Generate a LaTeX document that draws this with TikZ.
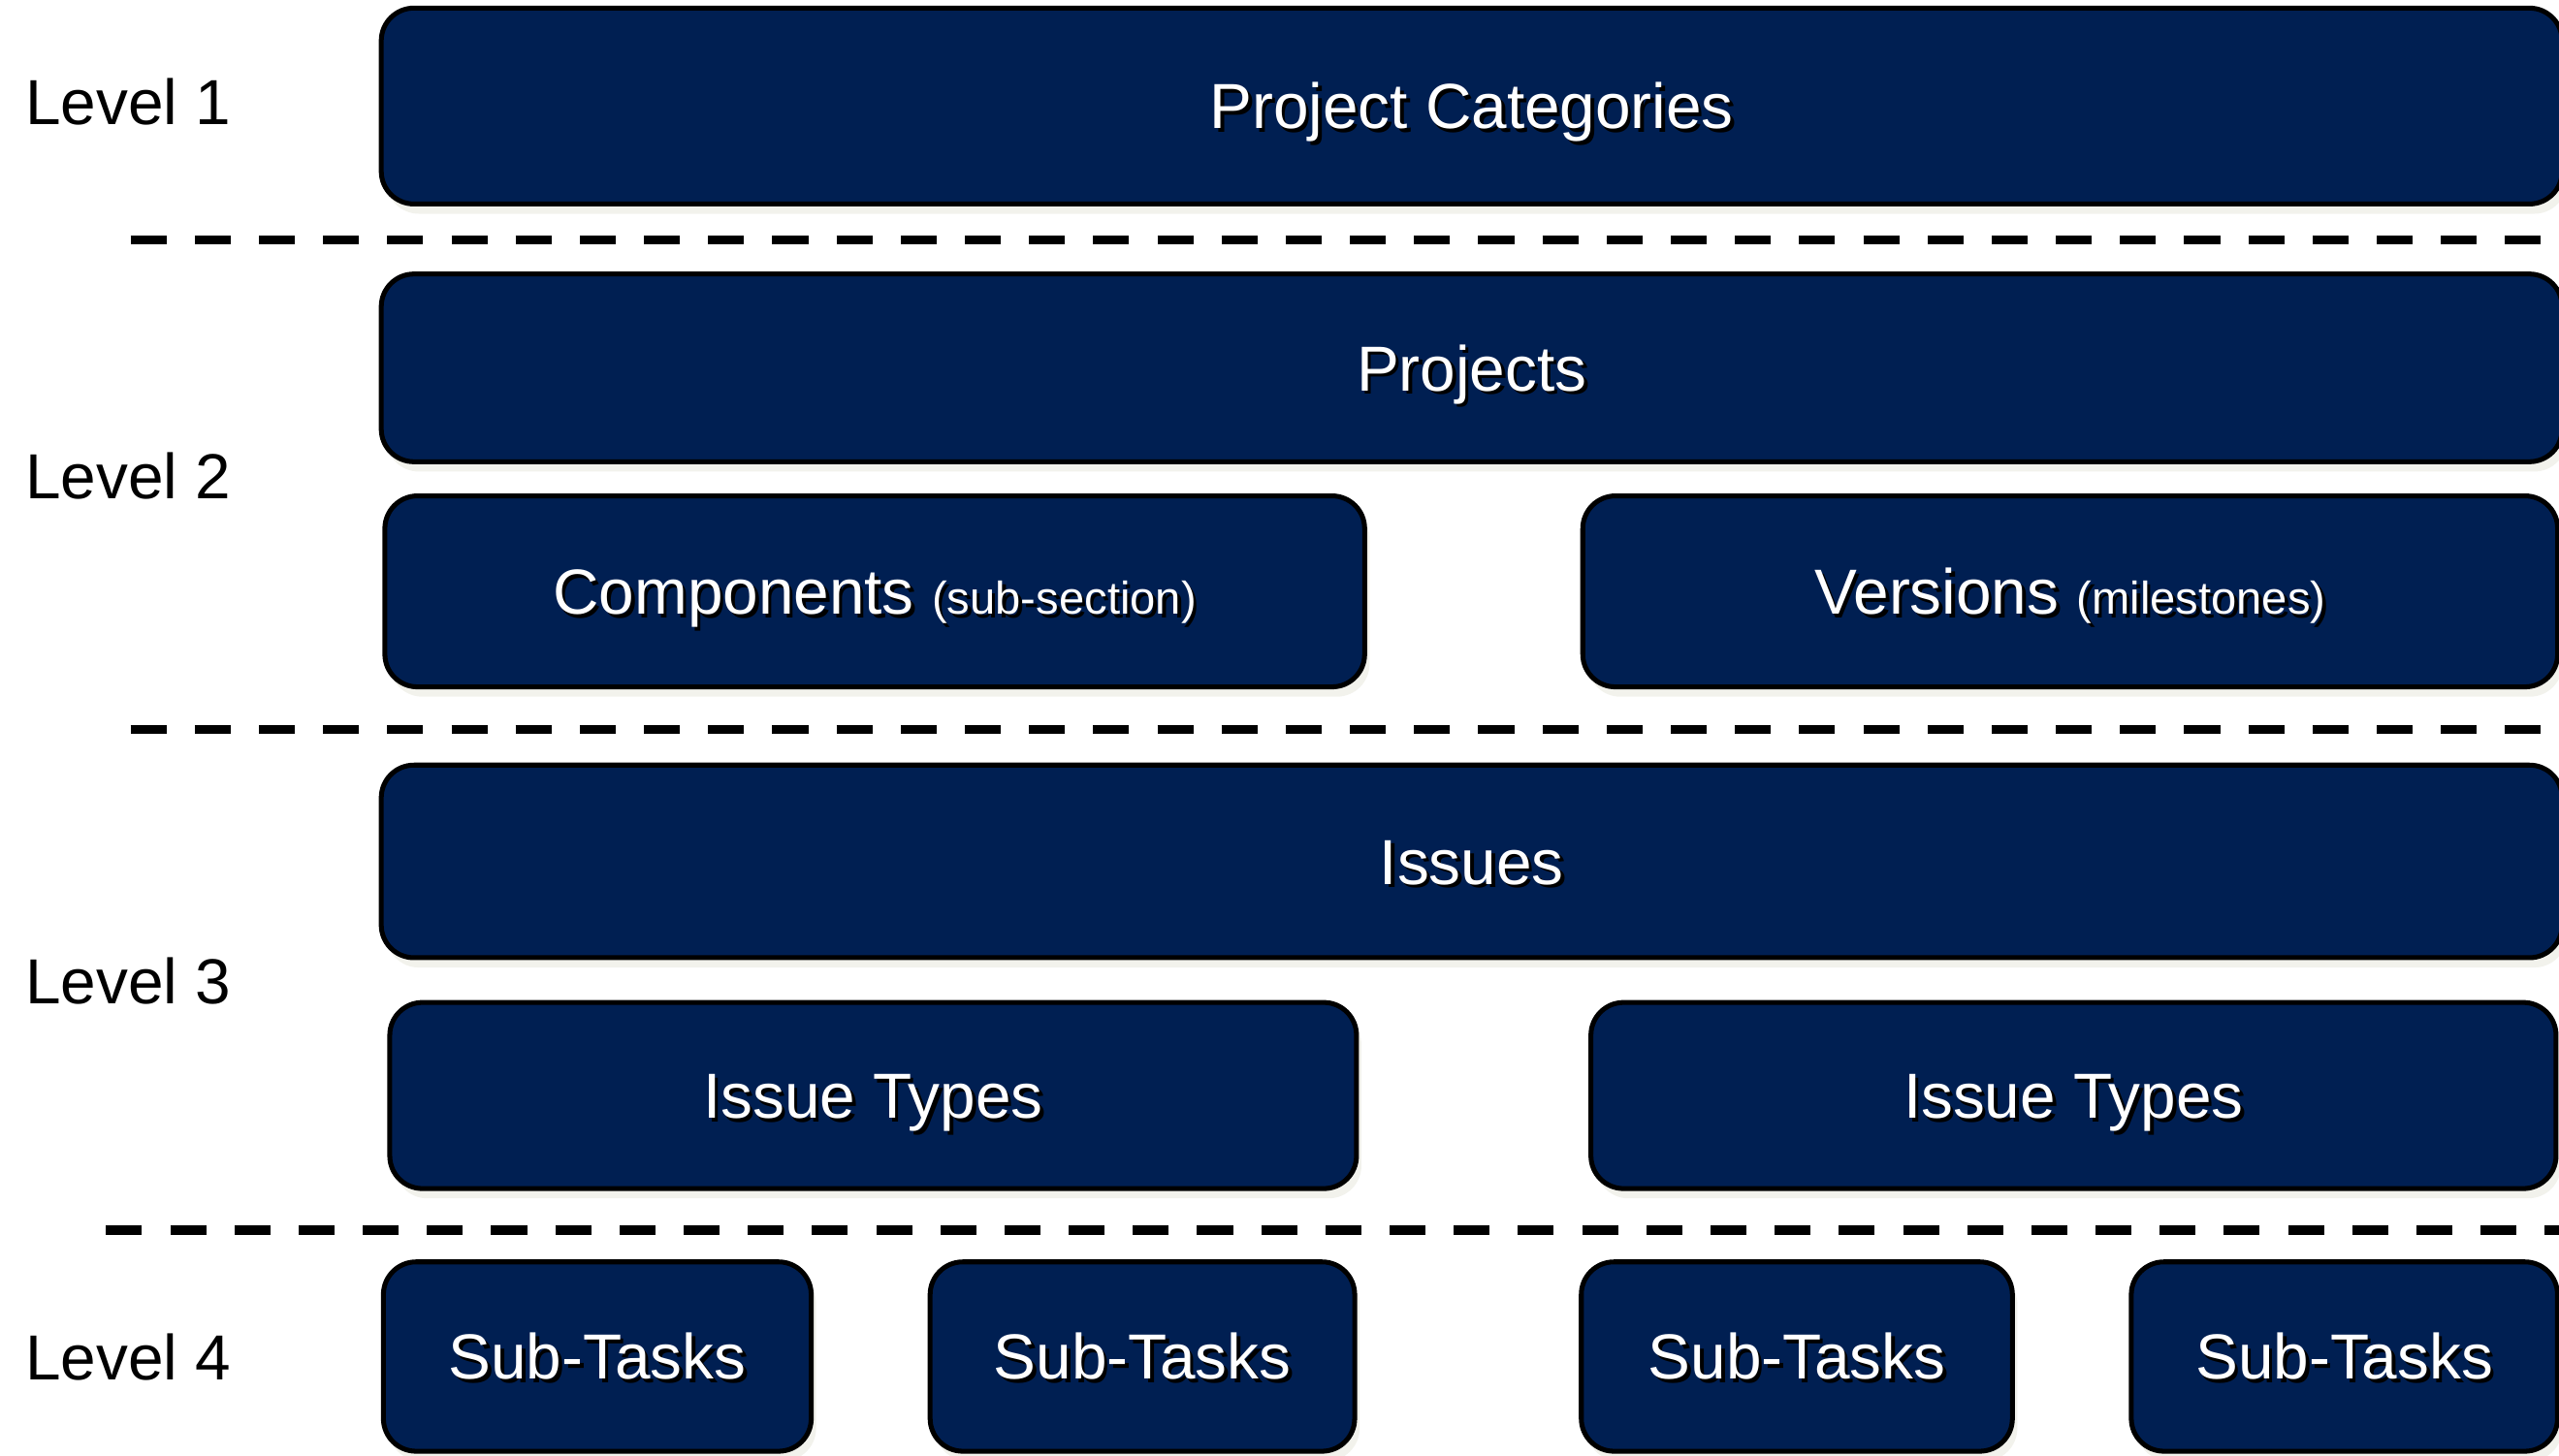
\documentclass[tikz,border=0pt]{standalone}
\usepackage{fontspec}
\setmainfont{Liberation Sans}
\usetikzlibrary{shadows}
\definecolor{navy}{RGB}{0,31,82}
\definecolor{shadowgray}{RGB}{242,242,236}
\newcommand\shtxt[1]{\leavevmode\rlap{\kern0.6pt\raisebox{-0.6pt}{\textcolor{black}{#1}}}\textcolor{white}{#1}}
\newcommand\smalltxt[1]{{\fontsize{7.97pt}{9pt}\selectfont #1}}
\begin{document}
\begin{tikzpicture}[x=0.01cm,y=-0.01cm,
  every node/.style={font=\fontsize{11.1pt}{13pt}\selectfont},
  box/.style={draw=black, line width=0.85pt, fill=navy, rounded corners=0.2cm,
    text height=0.28cm, text depth=0pt, inner sep=0pt, align=center,
    drop shadow={shadow xshift=0.03cm, shadow yshift=-0.06cm, fill=shadowgray, opacity=1}},
  lvl/.style={anchor=west, inner sep=0pt, text height=0.28cm, text depth=0pt, text=black},
  sep/.style={draw=black, line width=1.56pt, dash pattern=on 0.22cm off 0.173cm}
]
\useasboundingbox (0,0) rectangle (1568,892);
\clip (0,0) rectangle (1568,892);

% level labels
\node[lvl] (l1) at (15,62.5) {Level 1};
\node[lvl] (l2) at (15,292) {Level 2};
\node[lvl] (l3) at (15,601) {Level 3};
\node[lvl] (l4) at (15,832) {Level 4};

% separators
\coordinate (s1a) at (80,147);   \coordinate (s1b) at (1568,147);
\coordinate (s2a) at (80,447);   \coordinate (s2b) at (1568,447);
\coordinate (s3a) at (65,754);   \coordinate (s3b) at (1568,754);
\draw[sep] (s1a) -- (s1b);
\draw[sep] (s2a) -- (s2b);
\draw[sep] (s3a) -- (s3b);

% level 1
\node[box, minimum width=13.355cm, minimum height=1.20cm] (cat) at (901.75,65) {\shtxt{Project Categories}};

% level 2
\node[box, minimum width=13.355cm, minimum height=1.15cm] (proj) at (901.75,225.5) {\shtxt{Projects}};
\node[box, minimum width=6.00cm, minimum height=1.17cm] (comp) at (536,362.5) {\shtxt{Components \smalltxt{(sub-section)}}};
\node[box, minimum width=5.97cm, minimum height=1.17cm] (vers) at (1268.5,362.5) {\shtxt{Versions \smalltxt{(milestones)}}};

% level 3
\node[box, minimum width=13.355cm, minimum height=1.18cm] (iss) at (901.75,528) {\shtxt{Issues}};
\node[box, minimum width=5.92cm, minimum height=1.14cm] (it1) at (535,671.5) {\shtxt{Issue Types}};
\node[box, minimum width=5.91cm, minimum height=1.14cm] (it2) at (1270.5,671.5) {\shtxt{Issue Types}};

% level 4
\node[box, minimum width=2.62cm, minimum height=1.16cm] (st1) at (366,831.5) {\shtxt{Sub-Tasks}};
\node[box, minimum width=2.60cm, minimum height=1.16cm] (st2) at (700,831.5) {\shtxt{Sub-Tasks}};
\node[box, minimum width=2.64cm, minimum height=1.16cm] (st3) at (1101,831.5) {\shtxt{Sub-Tasks}};
\node[box, minimum width=2.61cm, minimum height=1.16cm] (st4) at (1436.5,831.5) {\shtxt{Sub-Tasks}};
\end{tikzpicture}
\end{document}
